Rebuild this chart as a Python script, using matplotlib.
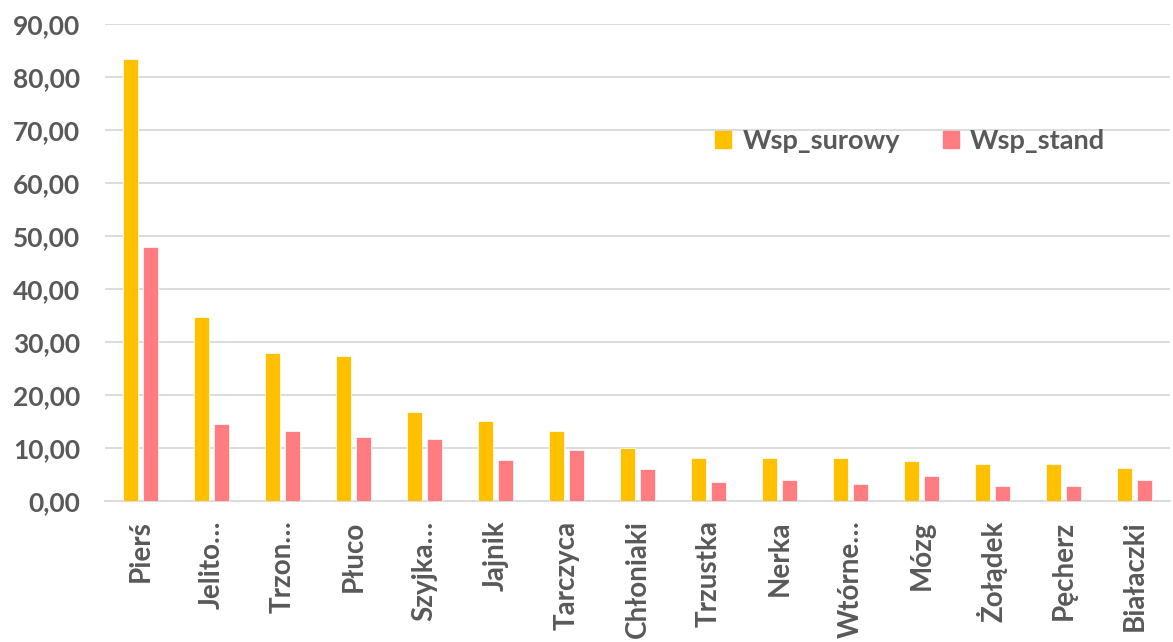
import numpy as np
import matplotlib.pyplot as plt
from matplotlib.patches import Patch

plt.rcParams['font.family'] = ['Lato', 'DejaVu Sans']

kategorie = ['Pierś', 'Jelito…', 'Trzon…', 'Płuco', 'Szyjka…', 'Jajnik', 'Tarczyca',
             'Chłoniaki', 'Trzustka', 'Nerka', 'Wtórne…', 'Mózg', 'Żołądek', 'Pęcherz',
             'Białaczki']
wsp_surowy = [83.4, 34.7, 27.9, 27.4, 16.7, 15.1, 13.2, 10.0, 8.1, 8.1, 8.1, 7.5, 7.0, 7.0, 6.2]
wsp_stand = [47.9, 14.6, 13.3, 12.0, 11.7, 7.8, 9.6, 6.0, 3.6, 4.0, 3.2, 4.7, 2.8, 2.8, 4.0]
yticks = np.arange(0, 91, 10)

kol_sur = '#FFC000'
kol_std = '#FF7C80'
szary = '#595959'

fig = plt.figure(figsize=(11.73, 6.42), dpi=100)
ax = fig.add_axes([105/1173, 141/642, 1065/1173, 477/642])

x = np.arange(len(kategorie))
w = 0.215
ax.bar(x - w/2 - 0.035, wsp_surowy, w, color=kol_sur, edgecolor='white', linewidth=0.5, zorder=3)
ax.bar(x + w/2 + 0.035, wsp_stand, w, color=kol_std, edgecolor='white', linewidth=0.5, zorder=3)

ax.set_xlim(-0.5, len(kategorie) - 0.5)
ax.set_ylim(0, 90)
ax.set_yticks(yticks)
ax.set_yticklabels([f'{v:.2f}'.replace('.', ',') for v in yticks])
ax.set_xticks(x)
ax.set_xticklabels(kategorie, rotation=90, va='top', ha='center')

ax.grid(axis='y', color='#D9D9D9', linewidth=1.3, zorder=0)
for s in ['top', 'right', 'left']:
    ax.spines[s].set_visible(False)
ax.spines['bottom'].set_color('#D9D9D9')
ax.spines['bottom'].set_linewidth(1.3)
ax.tick_params(axis='y', length=0, pad=18, labelsize=19, labelcolor=szary)
ax.tick_params(axis='x', length=0, pad=14, labelsize=20, labelcolor=szary)
for t in ax.get_xticklabels() + ax.get_yticklabels():
    t.set_fontweight('bold')

uchwyty = [Patch(color=kol_sur), Patch(color=kol_std)]
fig.legend(uchwyty, ['Wsp_surowy', 'Wsp_stand'], loc='center', bbox_to_anchor=(0.776, 0.78),
           ncol=2, frameon=False, handlelength=0.6, handleheight=0.6, handletextpad=0.4,
           columnspacing=1.6, prop={'size': 19.5, 'weight': 'bold'}, labelcolor=szary)

fig.savefig('out.png', dpi=100)
